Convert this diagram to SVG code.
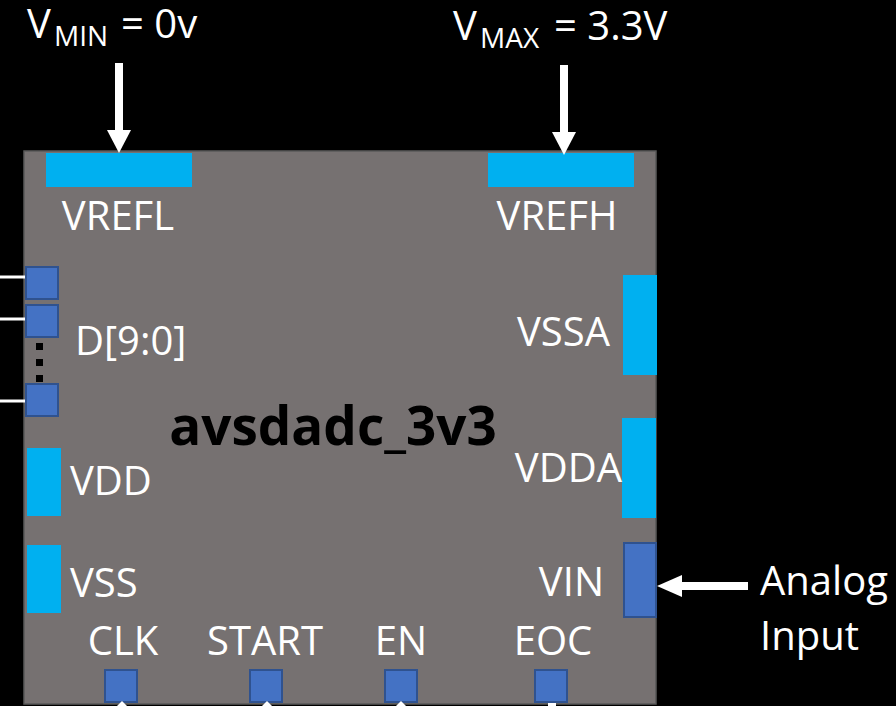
<svg xmlns="http://www.w3.org/2000/svg" width="896" height="706" viewBox="0 0 896 706">
  <style>
    .lbl { font-family: "Open Sans", "Liberation Sans", sans-serif; font-size: 40px; fill: #ffffff; }
    .sub { font-size: 28px; }
    .title { font-family: "Open Sans", "Liberation Sans", sans-serif; font-size: 53px; font-weight: bold; fill: #000000; }
    .pwr { fill: #00B0F0; }
    .pin { fill: #4472C4; stroke: #2F528F; stroke-width: 2; }
    .wire { stroke: #ffffff; stroke-width: 3; }
    .arr { fill: #ffffff; }
  </style>
  <rect x="0" y="0" width="896" height="706" fill="#000000"/>

  <g id="block">
    <rect x="24" y="151" width="632" height="553" fill="#767171" stroke="#595959" stroke-width="1.5"/>
    <text class="title" x="333" y="445" text-anchor="middle">avsdadc_3v3</text>
  </g>

  <g id="vrefl">
    <rect class="pwr" x="46" y="153" width="146" height="34"/>
    <text class="lbl" x="118" y="230" text-anchor="middle">VREFL</text>
  </g>
  <g id="vrefh">
    <rect class="pwr" x="488" y="153" width="146" height="34"/>
    <text class="lbl" x="557" y="230" text-anchor="middle">VREFH</text>
  </g>

  <g id="data">
    <rect class="pin" x="26" y="267" width="32" height="32"/>
    <rect class="pin" x="26" y="305" width="32" height="32"/>
    <rect class="pin" x="26" y="384" width="32" height="32"/>
    <rect x="36" y="343" width="7" height="7" fill="#000000"/>
    <rect x="36" y="359" width="7" height="7" fill="#000000"/>
    <rect x="36" y="375" width="7" height="7" fill="#000000"/>
    <text class="lbl" x="75" y="355">D[9:0]</text>
  </g>

  <g id="vdd">
    <rect class="pwr" x="27" y="448" width="34" height="68"/>
    <text class="lbl" x="70" y="495">VDD</text>
  </g>
  <g id="vss">
    <rect class="pwr" x="27" y="545" width="34" height="68"/>
    <text class="lbl" x="70" y="597">VSS</text>
  </g>

  <g id="vssa">
    <rect class="pwr" x="623" y="275" width="34" height="100"/>
    <text class="lbl" x="610" y="346" text-anchor="end">VSSA</text>
  </g>
  <g id="vdda">
    <rect class="pwr" x="622" y="418" width="34" height="100"/>
    <text class="lbl" x="622" y="482" text-anchor="end">VDDA</text>
  </g>
  <g id="vin">
    <rect class="pin" x="624" y="543" width="32" height="74"/>
    <text class="lbl" x="604" y="596" text-anchor="end">VIN</text>
  </g>

  <g id="clk">
    <rect class="pin" x="105" y="670" width="32" height="32"/>
    <text class="lbl" x="123" y="655" text-anchor="middle">CLK</text>
  </g>
  <g id="start">
    <rect class="pin" x="250" y="670" width="32" height="32"/>
    <text class="lbl" x="265" y="655" text-anchor="middle">START</text>
  </g>
  <g id="en">
    <rect class="pin" x="385" y="670" width="32" height="32"/>
    <text class="lbl" x="401" y="655" text-anchor="middle">EN</text>
  </g>
  <g id="eoc">
    <rect class="pin" x="535" y="670" width="32" height="32"/>
    <text class="lbl" x="553" y="655" text-anchor="middle">EOC</text>
  </g>

  <g id="vmin-label">
    <text class="lbl"><tspan x="27" y="38">V</tspan><tspan class="sub" x="54" y="46">MIN</tspan><tspan x="121" y="38">= 0v</tspan></text>
  </g>
  <g id="vmax-label">
    <text class="lbl"><tspan x="453" y="40">V</tspan><tspan class="sub" x="480" y="48">MAX</tspan><tspan x="554" y="40">= 3.3V</tspan></text>
  </g>
  <g id="analog-input">
    <text class="lbl" x="760" y="595">Analog</text>
    <text class="lbl" x="760" y="650">Input</text>
  </g>

  <g id="connectors">
    <rect class="arr" x="115" y="63" width="8" height="68"/>
    <polygon class="arr" points="107,130 131,130 119,153"/>
    <rect class="arr" x="560" y="65" width="8" height="68"/>
    <polygon class="arr" points="552,132 576,132 564,155"/>
    <rect class="arr" x="681" y="582" width="67" height="8"/>
    <polygon class="arr" points="682,575 682,597 657,586"/>
    <line class="wire" x1="0" y1="277" x2="25" y2="277"/>
    <line class="wire" x1="0" y1="319" x2="25" y2="319"/>
    <line class="wire" x1="0" y1="401" x2="25" y2="401"/>
    <polygon class="arr" points="116,707 128,707 122,701"/>
    <polygon class="arr" points="261,707 273,707 267,701"/>
    <polygon class="arr" points="395,707 407,707 401,701"/>
    <rect class="arr" x="548" y="703" width="8" height="3"/>
  </g>
</svg>
